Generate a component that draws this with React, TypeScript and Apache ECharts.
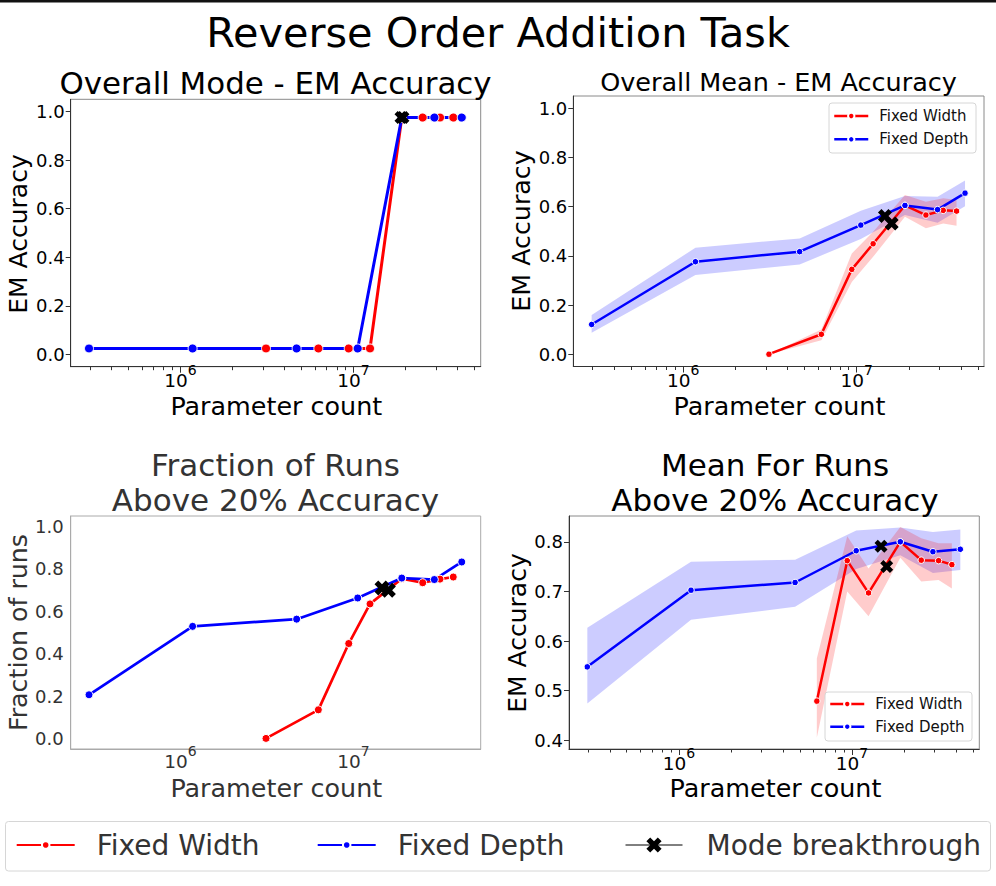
import React, { useEffect, useRef } from 'react';
import * as echarts from 'echarts';

// ---------------- data ----------------
const paramsFixedDepth = [2.96e5, 1.175e6, 4.69e6, 1.057e7, 1.9e7, 2.93e7, 4.22e7];
const paramsFixedWidth = [3.12e6, 6.26e6, 9.38e6, 1.245e7, 1.9e7, 2.51e7, 3.16e7, 3.77e7];
const paramsFixedWidthAbove = [6.26e6, 9.38e6, 1.245e7, 1.9e7, 2.51e7, 3.16e7, 3.77e7];

// Panel 1: Overall Mode
const modeDepth = [0.025, 0.025, 0.025, 0.025, 0.975, 0.975, 0.975];
const modeWidth = [0.025, 0.025, 0.025, 0.025, 0.975, 0.975, 0.975, 0.975];
const modeBreakX = [1.88e7, 1.93e7];
const modeBreakY = [0.975, 0.975];

// Panel 2: Overall Mean
const meanDepth = [0.121, 0.376, 0.417, 0.525, 0.605, 0.588, 0.655];
const meanDepthLow = [0.087, 0.322, 0.365, 0.468, 0.566, 0.535, 0.602];
const meanDepthHigh = [0.159, 0.433, 0.471, 0.583, 0.643, 0.64, 0.706];
const meanWidth = [0.0, 0.081, 0.345, 0.449, 0.605, 0.566, 0.585, 0.582];
const meanWidthLow = [0.0, 0.057, 0.294, 0.396, 0.559, 0.512, 0.532, 0.522];
const meanWidthHigh = [0.0, 0.1, 0.41, 0.498, 0.647, 0.62, 0.634, 0.627];
const meanBreakX = [1.457e7, 1.593e7];
const meanBreakY = [0.562, 0.532];

// Panel 3: Fraction of runs above 20%
const fracDepth = [0.206, 0.529, 0.563, 0.663, 0.757, 0.75, 0.833];
const fracWidth = [0.0, 0.135, 0.448, 0.635, 0.754, 0.735, 0.752, 0.762];
const fracBreakX = [1.46e7, 1.59e7];
const fracBreakY = [0.71, 0.7];

// Panel 4: Mean for runs above 20%
const aboveDepth = [0.548, 0.7025, 0.718, 0.782, 0.8, 0.78, 0.785];
const aboveDepthLow = [0.474, 0.643, 0.669, 0.745, 0.773, 0.737, 0.743];
const aboveDepthHigh = [0.627, 0.76, 0.764, 0.823, 0.829, 0.82, 0.825];
const aboveWidth = [0.479, 0.762, 0.697, 0.8, 0.763, 0.762, 0.754];
const aboveWidthLow = [0.405, 0.7, 0.65, 0.768, 0.72, 0.723, 0.706];
const aboveWidthHigh = [0.565, 0.811, 0.746, 0.83, 0.807, 0.797, 0.797];
const aboveBreakX = [1.47e7, 1.585e7];
const aboveBreakY = [0.791, 0.75];

// ticks
const xMajorTicks = [1e6, 1e7];
const xMinorTicks = [3e5, 4e5, 5e5, 6e5, 7e5, 8e5, 9e5, 2e6, 3e6, 4e6, 5e6, 6e6, 7e6, 8e6, 9e6, 2e7, 3e7, 4e7, 5e7];
const yTicksUnit = [0, 0.2, 0.4, 0.6, 0.8, 1.0];
const yTicksAbove = [0.4, 0.5, 0.6, 0.7, 0.8];

// ---------------- layout / style ----------------
const FONT = 'DejaVu Sans';
const XMIN = 2.32e5;
const XMAX = 5.43e7;
const RED = '#ff0000';
const BLUE = '#0000ff';
const XPATH = 'path://M25 0 L50 25 L75 0 L100 25 L75 50 L100 75 L75 100 L50 75 L25 100 L0 75 L25 50 L0 25 Z';

const panels = [
  { left: 70.7, top: 99.3, width: 410, height: 267.4, ymin: -0.05, ymax: 1.05, yTicks: yTicksUnit, gray: false, ticks: true, lineW: 3, sym: 9, symX: 13, lblMargin: -3.5 },
  { left: 573.3, top: 96, width: 410.7, height: 270.5, ymin: -0.05, ymax: 1.05, yTicks: yTicksUnit, gray: false, ticks: true, lineW: 2.5, sym: 6.5, symX: 14, lblMargin: -3.5 },
  { left: 70.7, top: 516, width: 410, height: 233, ymin: -0.05, ymax: 1.05, yTicks: yTicksUnit, gray: true, ticks: false, lineW: 2.7, sym: 8, symX: 15, lblMargin: -4.75 },
  { left: 569, top: 516, width: 410.3, height: 233, ymin: 0.3825, ymax: 0.852, yTicks: yTicksAbove, gray: false, ticks: true, lineW: 2.5, sym: 6.5, symX: 13, lblMargin: -3.5 },
];

function txt(text: string, x: number, y: number, size: number, color: string, rotation = 0, lineHeight?: number) {
  return {
    type: 'text', x, y, rotation, silent: true, z: 10,
    style: {
      text, x: 0, y: 0, fill: color, fontSize: size, fontFamily: FONT,
      align: 'center', verticalAlign: 'middle', textAlign: 'center', textVerticalAlign: 'middle',
      lineHeight: lineHeight || size,
    },
  };
}

function frame(x: number, y: number, w: number, h: number) {
  return {
    type: 'rect', z: 3, silent: true,
    shape: { x, y, width: w, height: h, r: 3 },
    style: { fill: 'rgba(255,255,255,0.8)', stroke: '#d6d6d6', lineWidth: 1 },
  };
}

function legendItem(name: string, left: number, cy: number, iw: number, ih: number, fs: number, color: string, pad: number, lw: number) {
  const h = Math.max(ih, fs);
  return {
    show: true, data: [name], left, top: cy - h / 2, orient: 'horizontal', padding: 0,
    itemWidth: iw, itemHeight: ih, selectedMode: false, z: 5,
    textStyle: { fontFamily: FONT, fontSize: fs, lineHeight: fs, color, padding: [0, 0, 0, pad] },
    lineStyle: { width: lw },
  };
}

export default function App() {
  const ref = useRef<HTMLDivElement>(null);

  useEffect(() => {
    if (!ref.current) return;
    const chart = echarts.init(ref.current, undefined, { renderer: 'svg' });

    const series: any[] = [];

    const band = (xs: number[], lo: number[], hi: number[], color: string, idx: number) => {
      series.push({
        type: 'custom', xAxisIndex: idx, yAxisIndex: idx, z: 1, silent: true,
        data: xs.map((x, i) => [x, lo[i], hi[i]]),
        encode: { x: 0, y: [1, 2] },
        renderItem: (params: any, api: any) => {
          if (params.dataIndex !== 0) return null;
          const pts: number[][] = [];
          for (let i = 0; i < xs.length; i++) pts.push(api.coord([xs[i], hi[i]]));
          for (let i = xs.length - 1; i >= 0; i--) pts.push(api.coord([xs[i], lo[i]]));
          return { type: 'polygon', shape: { points: pts }, style: { fill: color, stroke: 'none' } };
        },
      });
    };

    const line = (name: string, xs: number[], ys: number[], color: string, idx: number) => {
      const p = panels[idx];
      series.push({
        type: 'line', name, xAxisIndex: idx, yAxisIndex: idx, z: 2, silent: true,
        data: xs.map((x, i) => [x, ys[i]]),
        symbol: 'circle', symbolSize: p.sym, showSymbol: true, showAllSymbol: true,
        lineStyle: { color, width: p.lineW },
        itemStyle: { color, borderColor: '#ffffff', borderWidth: 1 },
        emphasis: { disabled: true },
      });
    };

    const breaks = (xs: number[], ys: number[], idx: number) => {
      const p = panels[idx];
      xs.forEach((x, i) => {
        series.push({
          type: 'line', name: 'Mode breakthrough', xAxisIndex: idx, yAxisIndex: idx, z: 5, silent: true,
          data: [[x, ys[i]]],
          symbol: XPATH, symbolSize: p.symX, showSymbol: true,
          lineStyle: { color: '#000000', width: 1 },
          itemStyle: { color: '#000000' },
          emphasis: { disabled: true },
        });
      });
    };

    // panel 1
    line('Fixed Width', paramsFixedWidth, modeWidth, RED, 0);
    line('Fixed Depth', paramsFixedDepth, modeDepth, BLUE, 0);
    breaks(modeBreakX, modeBreakY, 0);
    // panel 2
    band(paramsFixedDepth, meanDepthLow, meanDepthHigh, 'rgba(0,0,255,0.2)', 1);
    band(paramsFixedWidth, meanWidthLow, meanWidthHigh, 'rgba(255,0,0,0.2)', 1);
    line('Fixed Width', paramsFixedWidth, meanWidth, RED, 1);
    line('Fixed Depth', paramsFixedDepth, meanDepth, BLUE, 1);
    breaks(meanBreakX, meanBreakY, 1);
    // panel 3
    line('Fixed Width', paramsFixedWidth, fracWidth, RED, 2);
    line('Fixed Depth', paramsFixedDepth, fracDepth, BLUE, 2);
    breaks(fracBreakX, fracBreakY, 2);
    // panel 4
    band(paramsFixedDepth, aboveDepthLow, aboveDepthHigh, 'rgba(0,0,255,0.2)', 3);
    band(paramsFixedWidthAbove, aboveWidthLow, aboveWidthHigh, 'rgba(255,0,0,0.2)', 3);
    line('Fixed Width', paramsFixedWidthAbove, aboveWidth, RED, 3);
    line('Fixed Depth', paramsFixedDepth, aboveDepth, BLUE, 3);
    breaks(aboveBreakX, aboveBreakY, 3);

    const grid = panels.map((p) => ({
      left: p.left, top: p.top, width: p.width, height: p.height,
      show: true, borderColor: p.gray ? '#aaaaaa' : '#8a8a8a', borderWidth: 1, backgroundColor: 'transparent',
      containLabel: false, outerBoundsMode: 'none',
    }));

    const mainX = panels.map((p, i) => ({
      type: 'log', logBase: 10, gridIndex: i, min: XMIN, max: XMAX, position: 'bottom',
      axisLine: { show: true, onZero: false, lineStyle: { color: p.gray ? '#aaaaaa' : '#333333', width: 1 } },
      axisTick: { show: p.ticks, length: 6, customValues: xMajorTicks, lineStyle: { color: '#333333' } },
      axisLabel: {
        show: true, customValues: xMajorTicks, margin: p.lblMargin,
        formatter: (v: number) => `{b|10}{s|${Math.round(Math.log10(v))}}`,
        rich: {
          b: { fontSize: 18.5, lineHeight: 18, fontFamily: FONT, color: p.gray ? '#333333' : '#000000', verticalAlign: 'bottom' },
          s: { fontSize: 14, fontFamily: FONT, color: p.gray ? '#333333' : '#000000', verticalAlign: 'top', padding: [0, 0, 13, 0] },
        },
      },
      splitLine: { show: false }, minorTick: { show: false },
    }));

    const minorX = panels.map((p, i) => ({
      type: 'log', logBase: 10, gridIndex: i, min: XMIN, max: XMAX, position: 'bottom',
      axisLine: { show: false, onZero: false },
      axisTick: { show: p.ticks, length: 3.5, customValues: xMinorTicks, lineStyle: { color: '#333333' } },
      axisLabel: { show: false },
      splitLine: { show: false },
    }));

    const yAxis = panels.map((p, i) => ({
      type: 'value', gridIndex: i, min: p.ymin, max: p.ymax,
      axisLine: { show: true, onZero: false, lineStyle: { color: p.gray ? '#aaaaaa' : '#333333', width: 1 } },
      axisTick: { show: p.ticks, length: 5, customValues: p.yTicks, lineStyle: { color: '#333333' } },
      axisLabel: {
        show: true, customValues: p.yTicks, margin: p.gray ? 7 : 6,
        formatter: (v: number) => v.toFixed(1),
        fontSize: 18, fontFamily: FONT, color: p.gray ? '#333333' : '#000000',
      },
      splitLine: { show: false },
    }));

    const graphic = [
      { type: 'rect', silent: true, shape: { x: 0, y: 0, width: 996, height: 2.5 }, style: { fill: '#111111' } },
      txt('Reverse Order Addition Task', 498, 33, 41.4, '#000000'),
      txt('Overall Mode - EM Accuracy', 275.5, 83, 30.9, '#000000'),
      txt('Overall Mean - EM Accuracy', 778.5, 82, 25.5, '#000000'),
      txt('Fraction of Runs\nAbove 20% Accuracy', 275.5, 482.5, 31, '#333333', 0, 35),
      txt('Mean For Runs\nAbove 20% Accuracy', 775, 482, 31, '#000000', 0, 35),
      txt('EM Accuracy', 18, 234, 25, '#000000', Math.PI / 2),
      txt('EM Accuracy', 521, 231, 25.3, '#000000', Math.PI / 2),
      txt('Fraction of runs', 18, 632.5, 25.3, '#333333', Math.PI / 2),
      txt('EM Accuracy', 517, 633, 25, '#000000', Math.PI / 2),
      txt('Parameter count', 276.3, 405.5, 25.4, '#000000'),
      txt('Parameter count', 779.5, 405.5, 25.4, '#000000'),
      txt('Parameter count', 276.3, 787.5, 25.4, '#333333'),
      txt('Parameter count', 775.5, 787.5, 25.4, '#000000'),
      frame(829, 103, 147, 50),
      frame(825, 692, 147, 49),
      frame(5.5, 821.5, 985, 49.5),
    ];

    const legend = [
      legendItem('Fixed Width', 15.7, 845, 58, 9.5, 28, '#333333', 17, 2),
      legendItem('Fixed Depth', 316.7, 845, 58, 9.5, 28, '#333333', 17, 2),
      legendItem('Mode breakthrough', 625, 845, 57, 19, 28, '#333333', 19, 1),
      legendItem('Fixed Width', 833, 116, 34, 8, 15, '#111111', 6, 2.5),
      legendItem('Fixed Depth', 833, 139.3, 34, 8, 15, '#111111', 6, 2.5),
      legendItem('Fixed Width', 829, 704, 34, 8, 15, '#111111', 6, 2.5),
      legendItem('Fixed Depth', 829, 726.7, 34, 8, 15, '#111111', 6, 2.5),
    ];

    chart.setOption({
      animation: false,
      backgroundColor: '#ffffff',
      textStyle: { fontFamily: FONT },
      grid,
      xAxis: [...mainX, ...minorX],
      yAxis,
      legend,
      graphic,
      series,
    });

    return () => chart.dispose();
  }, []);

  return (
    <div
      ref={ref}
      style={{ position: 'fixed', left: 0, top: 0, width: 996, height: 886, background: '#fff' }}
    />
  );
}
